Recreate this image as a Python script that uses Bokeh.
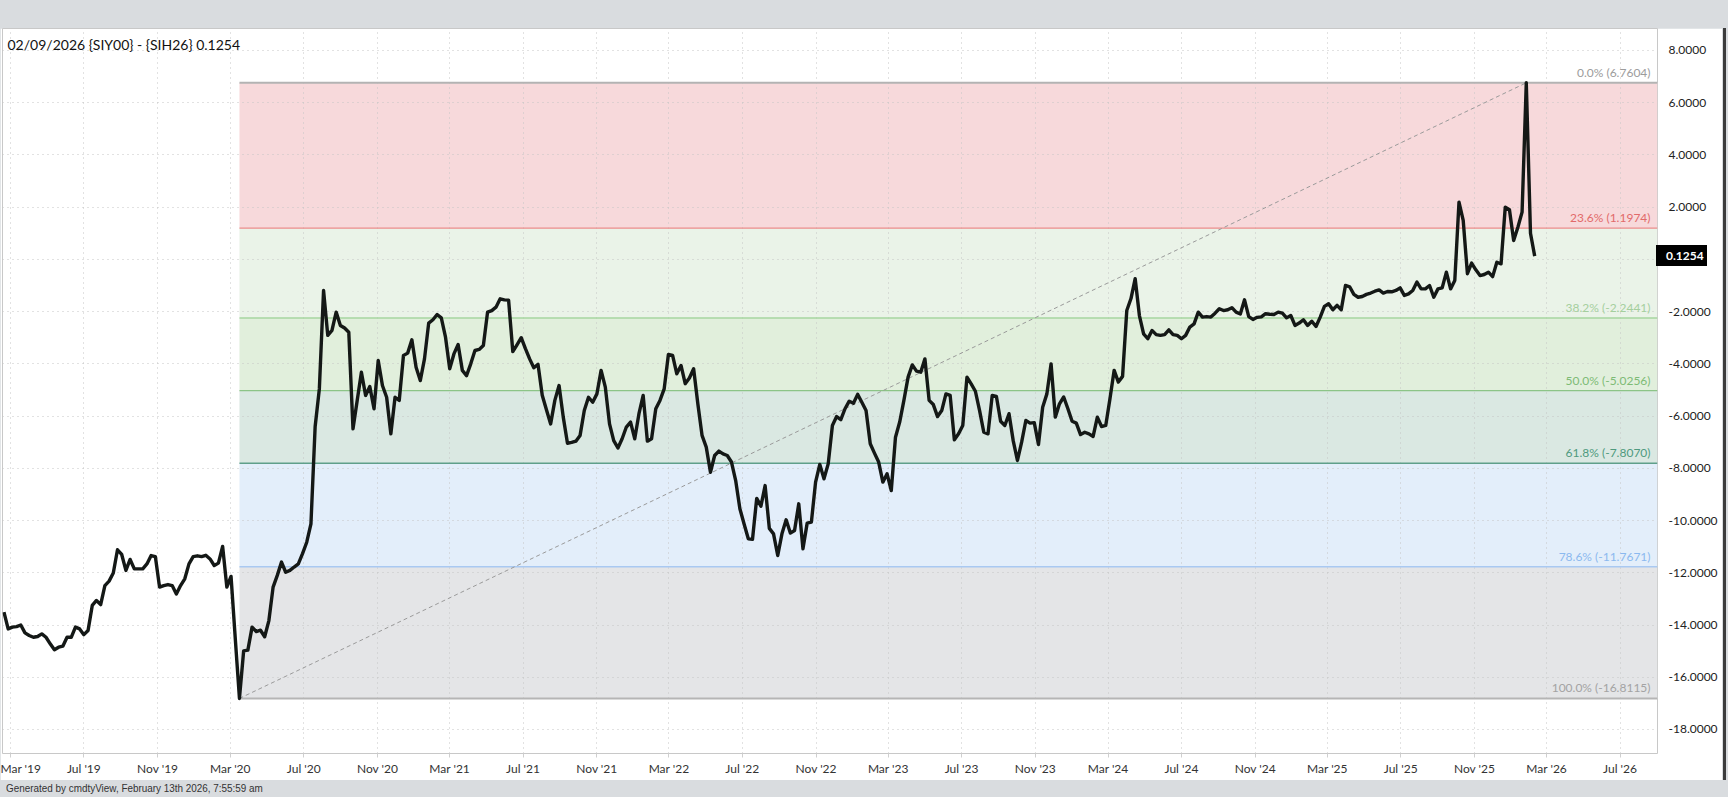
import pandas as pd
from decimal import Decimal, ROUND_HALF_UP
from bokeh.plotting import figure
from bokeh.models import (Range1d, FixedTicker, DatetimeTickFormatter, PrintfTickFormatter,
                          Label, Div, ColumnDataSource)
from bokeh.layouts import column, row
from bokeh.core.properties import value
from bokeh.embed import file_html
from bokeh.resources import INLINE

# ---------------- data (weekly, Mondays, starting 2019-02-18) ----------------
first_week = "2019-02-18"

vals_2019 = [-13.51, -14.15, -14.08, -14.06, -14.00, -14.30, -14.40, -14.47, -14.44, -14.34,
             -14.47, -14.72, -14.95, -14.85, -14.81, -14.47, -14.47, -14.08, -14.15, -14.37,
             -14.21, -13.25, -13.06, -13.22, -12.49, -12.32, -12.01, -11.12, -11.30, -11.91,
             -11.49, -11.85, -11.85, -11.85, -11.66, -11.34, -11.38, -12.55, -12.49, -12.45,
             -12.49, -12.81, -12.49, -12.23, -11.66, -11.38]
vals_2020 = [-11.35, -11.38, -11.33, -11.47, -11.72, -11.63, -10.99, -12.55, -12.14, -14.50,
             -16.8115, -14.99, -14.96, -14.08, -14.25, -14.20, -14.45, -13.83, -12.55, -12.10,
             -11.59, -11.98, -11.91, -11.78, -11.66, -11.27, -10.83, -10.13, -6.40, -4.96,
             -1.19, -2.91, -2.72, -2.02, -2.53, -2.63, -2.79, -6.49, -5.40, -4.32,
             -5.21, -4.87, -5.72, -3.87, -4.83, -5.28, -6.68, -5.28, -5.40, -3.68,
             -3.59, -3.08]
vals_2021 = [-4.13, -4.64, -3.81, -2.44, -2.31, -2.11, -2.24, -2.98, -4.19, -3.62,
             -3.26, -4.25, -4.45, -4.00, -3.49, -3.45, -3.30, -2.02, -1.96, -1.83,
             -1.51, -1.55, -1.56, -3.53, -3.27, -3.00, -3.42, -3.81, -4.15, -4.02,
             -5.20, -5.76, -6.30, -5.40, -4.83, -6.04, -7.04, -7.01, -6.96, -6.74,
             -5.79, -5.28, -5.47, -5.15, -4.25, -4.89, -6.30, -6.94, -7.22, -6.87,
             -6.42, -6.23]
vals_2022 = [-6.87, -5.91, -5.21, -6.96, -6.87, -5.72, -5.40, -4.96, -3.64, -3.68,
             -4.38, -4.06, -4.76, -4.54, -4.19, -5.53, -6.74, -7.19, -8.15, -7.51,
             -7.34, -7.45, -7.51, -7.76, -8.47, -9.55, -10.13, -10.70, -10.72, -9.15,
             -9.45, -8.66, -10.30, -10.51, -11.34, -10.51, -9.97, -10.48, -10.38, -9.36,
             -11.08, -10.10, -10.06, -8.53, -7.85, -8.40, -7.83, -6.36, -6.02, -6.14,
             -5.72, -5.43]
vals_2023 = [-5.51, -5.17, -5.47, -5.79, -7.06, -7.42, -7.76, -8.53, -8.21, -8.85,
             -6.81, -6.23, -5.40, -4.51, -4.04, -4.28, -4.32, -3.81, -5.40, -5.56,
             -6.02, -5.79, -5.15, -5.21, -6.91, -6.68, -6.36, -4.51, -4.77, -5.05,
             -5.79, -6.62, -6.68, -5.21, -5.25, -6.20, -6.36, -5.91, -6.95, -7.70,
             -7.00, -6.17, -6.27, -6.25, -7.09, -5.66, -5.15, -4.00, -6.04, -5.53,
             -5.27, -5.72]
vals_2024 = [-6.20, -6.27, -6.71, -6.62, -6.68, -6.78, -6.04, -6.40, -6.36, -5.34,
             -4.25, -4.70, -4.48, -1.96, -1.50, -0.74, -2.15, -2.85, -3.04, -2.72,
             -2.88, -2.91, -2.88, -2.70, -2.88, -2.91, -3.04, -2.91, -2.59, -2.47,
             -2.02, -2.21, -2.19, -2.21, -2.06, -1.89, -1.96, -1.93, -1.85, -2.02,
             -2.09, -1.55, -2.19, -2.30, -2.22, -2.20, -2.08, -2.10, -2.11, -2.02,
             -2.06, -2.24, -2.15]
vals_2025 = [-2.53, -2.44, -2.31, -2.53, -2.37, -2.57, -2.21, -1.80, -1.70, -1.93,
             -1.76, -1.93, -1.00, -1.05, -1.34, -1.45, -1.42, -1.34, -1.29, -1.22,
             -1.17, -1.29, -1.23, -1.24, -1.19, -1.09, -1.38, -1.32, -1.19, -0.87,
             -1.13, -1.13, -1.00, -1.45, -1.13, -1.09, -0.49, -1.13, -0.81, 2.19,
             1.49, -0.55, -0.14, -0.40, -0.62, -0.58, -0.49, -0.66, -0.11, -0.17,
             2.00, 1.90]
vals_2026 = [0.72, 1.23, 1.81, 6.7604, 1.00, 0.1254]

fib_pcts = [0.0, 23.6, 38.2, 50.0, 61.8, 78.6, 100.0]
fib_line_colors = ["#b3b3b3", "#ec8c8c", "#a6d6a0", "#8cc487", "#5f9f8a", "#a9c9f2", "#b5b5b5"]
fib_text_colors = ["#9c9c9c", "#e26a6a", "#a5cf9e", "#7dbb75", "#4f9a7e", "#8bb9ef", "#a3a3a3"]
band_colors = ["#f7d9db", "#eaf3e8", "#e1efdc", "#dae8e2", "#e3eefa", "#e4e5e7"]

x_tick_dates = ["2019-03-01", "2019-07-01", "2019-11-01", "2020-03-01", "2020-07-01", "2020-11-01",
                "2021-03-01", "2021-07-01", "2021-11-01", "2022-03-01", "2022-07-01", "2022-11-01",
                "2023-03-01", "2023-07-01", "2023-11-01", "2024-03-01", "2024-07-01", "2024-11-01",
                "2025-03-01", "2025-07-01", "2025-11-01", "2026-03-01", "2026-07-01"]
y_ticks = [-18, -16, -14, -12, -10, -8, -6, -4, -2, 0, 2, 4, 6, 8]

title_text = "02/09/2026 {SIY00} - {SIH26} 0.1254"
footer_text = "Generated by cmdtyView, February 13th 2026, 7:55:59 am"

x_start = pd.Timestamp("2019-02-15 14:00")
x_end = pd.Timestamp("2026-09-01 10:00")
y_start, y_end = -18.92, 8.84

# ---------------- build ----------------
values = vals_2019 + vals_2020 + vals_2021 + vals_2022 + vals_2023 + vals_2024 + vals_2025 + vals_2026
dates = pd.date_range(first_week, periods=len(values), freq="7D")

hi = max(values)
lo = min(values)
d_hi = dates[values.index(hi)]
d_lo = dates[values.index(lo)]
levels = [hi - p_ / 100.0 * (hi - lo) for p_ in fib_pcts]


def fmt4(v):
    return str(Decimal(repr(round(v, 8))).quantize(Decimal("0.0001"), rounding=ROUND_HALF_UP))


FONT = "Lato"
GRAY_BG = "#d9dcdf"
FRAME_W, FRAME_H = 1655, 725
BORDER_L, BORDER_T, BORDER_R = 2, 0, 65

p = figure(frame_width=FRAME_W, frame_height=FRAME_H, x_axis_type="datetime",
           x_range=Range1d(x_start, x_end), y_range=Range1d(y_start, y_end),
           output_backend="svg", toolbar_location=None, y_axis_location="right",
           min_border_left=BORDER_L, min_border_top=BORDER_T, min_border_right=BORDER_R,
           min_border_bottom=27)
p.background_fill_color = "white"
p.border_fill_color = "white"
p.outline_line_color = "#c8c8c8"
p.outline_line_width = 1

# bands
band_src = ColumnDataSource(dict(
    left=[d_lo] * 6, right=[x_end] * 6,
    top=levels[:-1], bottom=levels[1:], color=band_colors))
p.quad(left="left", right="right", top="top", bottom="bottom", fill_color="color",
       line_color=None, source=band_src, level="image")

# fib lines
fib_src = ColumnDataSource(dict(x0=[d_lo] * 7, x1=[x_end] * 7, y=levels,
                                color=fib_line_colors,
                                w=[2, 1.3, 1.3, 1.3, 1.3, 1.5, 2]))
p.segment(x0="x0", x1="x1", y0="y", y1="y", line_color="color", line_width="w", source=fib_src)

# diagonal trend line
p.line([d_lo, d_hi], [lo, hi], line_color="#9a9a9a", line_width=1, line_dash="4 3")

# data line
p.line(dates, values, line_color="#141816", line_width=3.4, line_join="round")

# fib labels
lab_src = ColumnDataSource(dict(
    x=[x_end] * 7, y=levels,
    t=[f"{p_:.1f}% ({fmt4(lv)})" for p_, lv in zip(fib_pcts, levels)],
    c=fib_text_colors))
p.text(x="x", y="y", text="t", text_color="c", text_align="right", text_baseline="bottom",
       x_offset=-7, y_offset=-3, text_font=value(FONT), text_font_size="12px", source=lab_src)

# title inside frame
p.add_layout(Label(x=x_start.value / 1e6, y=y_end, x_offset=5, y_offset=-7, text=title_text,
                   text_font=FONT, text_font_size="14px", text_color="#111111",
                   text_baseline="top", text_align="left"))

# axes
xticks_ms = [pd.Timestamp(d).value / 1e6 for d in x_tick_dates]
xa = p.xaxis[0]
xa.ticker = FixedTicker(ticks=xticks_ms)
xa.formatter = DatetimeTickFormatter(months="%b '%y", days="%b '%y", years="%b '%y")
xa.axis_line_color = None
xa.major_tick_line_color = "#cfcfcf"
xa.major_tick_out = 4
xa.major_tick_in = 0
xa.minor_tick_line_color = None
xa.major_label_standoff = 3
xa.major_label_text_font = FONT
xa.major_label_text_font_size = "12px"
xa.major_label_text_color = "#333333"

ya = p.yaxis[0]
ya.ticker = FixedTicker(ticks=y_ticks)
ya.formatter = PrintfTickFormatter(format="%.4f")
ya.axis_line_color = None
ya.major_tick_line_color = None
ya.major_tick_out = 0
ya.major_tick_in = 0
ya.minor_tick_line_color = None
ya.major_label_standoff = 11
ya.major_label_text_font = FONT
ya.major_label_text_font_size = "12px"
ya.major_label_text_color = "#222222"

p.xgrid.ticker = FixedTicker(ticks=xticks_ms)
p.ygrid.ticker = FixedTicker(ticks=y_ticks)
for g in (p.xgrid, p.ygrid):
    g.grid_line_color = "#c4c4c4"
    g.grid_line_dash = "1 4"
    g.grid_line_width = 1

# last-value marker: an HTML box laid over the right axis panel,
# its vertical position taken from the y scale of the frame
last_v = values[-1]
BOX_H, BOX_W = 21, 51
box_center = BORDER_T + FRAME_H * (y_end - last_v) / (y_end - y_start)
box_top = box_center - BOX_H / 2
marker = Div(
    text=(f'<div style="position:absolute;left:-{BORDER_R + 1}px;top:{box_top:.1f}px;'
          f'width:{BOX_W}px;height:{BOX_H}px;background:#000;color:#fff;'
          f'font-family:Lato,sans-serif;font-weight:bold;font-size:12px;'
          f'line-height:{BOX_H}px;padding-left:10px;box-sizing:border-box;'
          f'white-space:nowrap;">{fmt4(last_v)}</div>'),
    width=1, height=752, margin=0,
    styles={"position": "relative", "overflow": "visible", "z-index": "5"})

top_band = Div(text="", width=1728, height=28, margin=0,
               styles={"background-color": GRAY_BG})
edge = Div(text="", width=3, height=752, margin=0, styles={"background-color": "#3c3c3c"})
footer = Div(text=('<span style="display:inline-block;transform:scaleX(0.9);'
                   'transform-origin:0 50%;">' + footer_text + '</span>'),
             width=1728, height=17, margin=0,
             styles={"background-color": GRAY_BG,
                     "font-family": "'Liberation Sans', Arial, sans-serif",
                     "font-size": "11px", "color": "#333333", "line-height": "17px",
                     "padding-left": "6px", "box-sizing": "border-box"})

layout = column(top_band, row(p, marker, edge, spacing=0), footer, spacing=0,
                styles={"background-color": GRAY_BG})

open("out.html", "w").write(file_html(layout, INLINE))
